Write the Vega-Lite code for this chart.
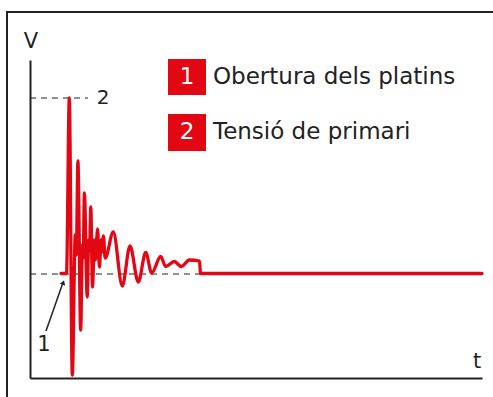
{
  "$schema": "https://vega.github.io/schema/vega-lite/v6.json",
  "width": 452,
  "height": 318,
  "autosize": "none",
  "padding": {"left": 30, "top": 60, "right": 11, "bottom": 19},
  "background": "white",
  "data": {"values": [{}]},
  "config": {
    "view": {"stroke": null},
    "axis": {"domain": true, "domainColor": "#222", "domainWidth": 2, "ticks": false, "labels": false, "grid": false, "title": null},
    "text": {"font": "DejaVu Sans", "color": "#222"}
  },
  "datasets": {
    "signal": [
      {"t": 31, "v": 104.5}, {"t": 36.5, "v": 104.5}, {"t": 39.3, "v": 280}, {"t": 42.3, "v": 3},
      {"t": 45.3, "v": 143}, {"t": 46.3, "v": 123}, {"t": 47.9, "v": 217}, {"t": 50.7, "v": 48},
      {"t": 52.4, "v": 133}, {"t": 53.2, "v": 120}, {"t": 54.4, "v": 185}, {"t": 57.2, "v": 81},
      {"t": 58.7, "v": 138}, {"t": 59.5, "v": 128}, {"t": 60.8, "v": 171}, {"t": 62.5, "v": 91},
      {"t": 64.4, "v": 138}, {"t": 65.4, "v": 118}, {"t": 67.6, "v": 149}, {"t": 69.4, "v": 111},
      {"t": 71.2, "v": 138}, {"t": 72.2, "v": 126}, {"t": 73.4, "v": 142}, {"t": 75.2, "v": 120},
      {"t": 83.3, "v": 146}, {"t": 92.3, "v": 92}, {"t": 100, "v": 132}, {"t": 108.3, "v": 96},
      {"t": 115.7, "v": 125.5}, {"t": 121.7, "v": 105}, {"t": 130.7, "v": 121.5}, {"t": 135.7, "v": 111.5},
      {"t": 144.3, "v": 116.5}, {"t": 151.3, "v": 111.5}, {"t": 159.3, "v": 118}, {"t": 169.5, "v": 117},
      {"t": 170.5, "v": 104.5}, {"t": 452, "v": 104.5}
    ],
    "legend": [
      {"num": "1", "label": "Obertura dels platins", "y1": 319, "y2": 283, "ym": 301},
      {"num": "2", "label": "Tensió de primari", "y1": 264, "y2": 227, "ym": 246}
    ]
  },
  "layer": [
    {
      "mark": {"type": "rect", "fill": null, "stroke": "#222", "strokeWidth": 2, "clip": false},
      "encoding": {
        "x": {"datum": -23, "type": "quantitative", "scale": {"domain": [0, 452]}},
        "x2": {"datum": 470},
        "y": {"datum": 366, "type": "quantitative", "scale": {"domain": [0, 318]}},
        "y2": {"datum": -27}
      }
    },
    {
      "mark": {"type": "rule", "color": "#222", "strokeWidth": 1.2, "strokeDash": [6, 5], "clip": false},
      "encoding": {
        "x": {"datum": 0, "type": "quantitative", "scale": {"domain": [0, 452]}},
        "x2": {"datum": 58},
        "y": {"datum": 280, "type": "quantitative", "scale": {"domain": [0, 318]}}
      }
    },
    {
      "mark": {"type": "rule", "color": "#222", "strokeWidth": 1.2, "strokeDash": [6, 5], "clip": false},
      "encoding": {
        "x": {"datum": 0, "type": "quantitative", "scale": {"domain": [0, 452]}},
        "x2": {"datum": 170},
        "y": {"datum": 104, "type": "quantitative", "scale": {"domain": [0, 318]}}
      }
    },
    {
      "data": {"name": "signal"},
      "mark": {"type": "line", "color": "#e30613", "strokeWidth": 3.3, "interpolate": "monotone", "strokeJoin": "round", "strokeCap": "round", "clip": false},
      "encoding": {
        "x": {"field": "t", "type": "quantitative", "scale": {"domain": [0, 452]}},
        "y": {"field": "v", "type": "quantitative", "scale": {"domain": [0, 318]}}
      }
    },
    {
      "mark": {"type": "rule", "color": "#222", "strokeWidth": 1.5, "clip": false},
      "encoding": {
        "x": {"datum": 16, "type": "quantitative", "scale": {"domain": [0, 452]}},
        "x2": {"datum": 32.5},
        "y": {"datum": 47, "type": "quantitative", "scale": {"domain": [0, 318]}},
        "y2": {"datum": 94}
      }
    },
    {
      "mark": {"type": "point", "shape": "triangle-up", "filled": true, "color": "#222", "size": 30, "angle": 19, "opacity": 1, "clip": false},
      "encoding": {
        "x": {"datum": 33.3, "type": "quantitative", "scale": {"domain": [0, 452]}},
        "y": {"datum": 95.5, "type": "quantitative", "scale": {"domain": [0, 318]}}
      }
    },
    {
      "mark": {"type": "text", "fontSize": 21, "align": "center", "baseline": "middle", "clip": false},
      "encoding": {"text": {"value": "V"}, "x": {"datum": 1, "type": "quantitative", "scale": {"domain": [0, 452]}}, "y": {"datum": 336, "type": "quantitative", "scale": {"domain": [0, 318]}}}
    },
    {
      "mark": {"type": "text", "fontSize": 21, "align": "center", "baseline": "middle", "clip": false},
      "encoding": {"text": {"value": "t"}, "x": {"datum": 447, "type": "quantitative", "scale": {"domain": [0, 452]}}, "y": {"datum": 16, "type": "quantitative", "scale": {"domain": [0, 318]}}}
    },
    {
      "mark": {"type": "text", "fontSize": 20, "align": "center", "baseline": "middle", "clip": false},
      "encoding": {"text": {"value": "2"}, "x": {"datum": 73, "type": "quantitative", "scale": {"domain": [0, 452]}}, "y": {"datum": 280, "type": "quantitative", "scale": {"domain": [0, 318]}}}
    },
    {
      "mark": {"type": "text", "fontSize": 21, "align": "center", "baseline": "middle", "clip": false},
      "encoding": {"text": {"value": "1"}, "x": {"datum": 14, "type": "quantitative", "scale": {"domain": [0, 452]}}, "y": {"datum": 33, "type": "quantitative", "scale": {"domain": [0, 318]}}}
    },
    {
      "data": {"name": "legend"},
      "layer": [
        {
          "mark": {"type": "rect", "color": "#e30613", "clip": false},
          "encoding": {
            "x": {"datum": 138, "type": "quantitative", "scale": {"domain": [0, 452]}},
            "x2": {"datum": 176},
            "y": {"field": "y1", "type": "quantitative", "scale": {"domain": [0, 318]}},
            "y2": {"field": "y2"}
          }
        },
        {
          "mark": {"type": "text", "fontSize": 23, "color": "white", "align": "center", "baseline": "middle", "clip": false},
          "encoding": {
            "text": {"field": "num"},
            "x": {"datum": 157, "type": "quantitative", "scale": {"domain": [0, 452]}},
            "y": {"field": "ym", "type": "quantitative", "scale": {"domain": [0, 318]}}
          }
        },
        {
          "mark": {"type": "text", "fontSize": 23, "align": "left", "baseline": "middle", "clip": false},
          "encoding": {
            "text": {"field": "label"},
            "x": {"datum": 183, "type": "quantitative", "scale": {"domain": [0, 452]}},
            "y": {"field": "ym", "type": "quantitative", "scale": {"domain": [0, 318]}}
          }
        }
      ]
    }
  ]
}
